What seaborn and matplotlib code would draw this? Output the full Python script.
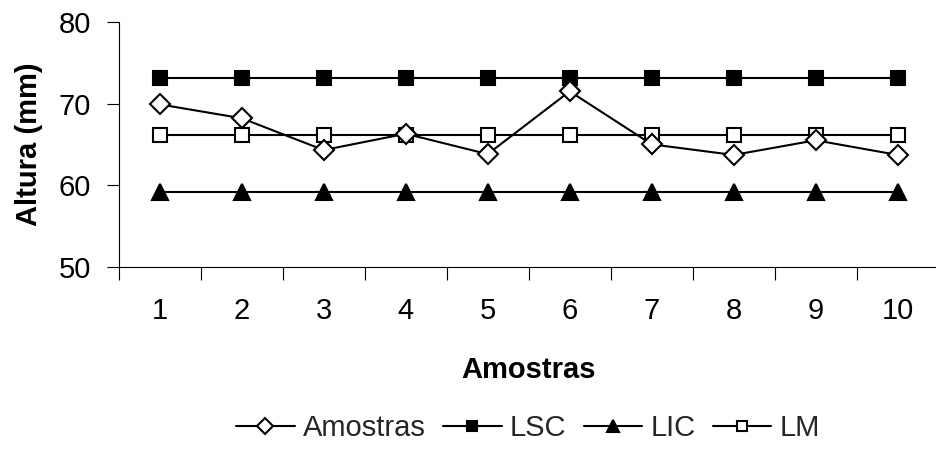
import matplotlib
matplotlib.use("Agg")
import matplotlib.pyplot as plt
import seaborn as sns
import pandas as pd

amostras_x = [1, 2, 3, 4, 5, 6, 7, 8, 9, 10]
amostras = [69.9, 68.2, 64.3, 66.3, 63.8, 71.5, 65.0, 63.7, 65.5, 63.7]
lsc = [73.15] * 10
lic = [59.15] * 10
lm = [66.15] * 10
y_ticks = [50, 60, 70, 80]
x_labels = ["1", "2", "3", "4", "5", "6", "7", "8", "9", "10"]

sns.set_theme(style="white")
plt.rcParams['font.family'] = ['Liberation Sans', 'DejaVu Sans']
FS = 21

fig = plt.figure(figsize=(9.36, 4.57), dpi=100)
ax = fig.add_axes([118.7 / 936, 1 - 266.7 / 457, 820 / 936, 244.7 / 457])

df = pd.DataFrame({"x": amostras_x, "Amostras": amostras, "LSC": lsc, "LIC": lic, "LM": lm})

styles = {
    "Amostras": dict(marker="D", markersize=10.2, markerfacecolor="white"),
    "LSC": dict(marker="s", markersize=10.5, markerfacecolor="black"),
    "LIC": dict(marker="^", markersize=11, markerfacecolor="black"),
    "LM": dict(marker="s", markersize=10.5, markerfacecolor="white"),
}
order_draw = ["LSC", "LIC", "LM", "Amostras"]
for name in order_draw:
    sns.lineplot(data=df, x="x", y=name, ax=ax, color="black", linewidth=1.5,
                 markeredgecolor="black", markeredgewidth=1.5, label=name,
                 zorder=3, clip_on=False, **styles[name])

ax.set_xlim(0.5, 10.5)
ax.set_ylim(50, 80)
ax.set_yticks(y_ticks)
ax.set_xticks(amostras_x)
ax.set_xticklabels(x_labels)
ax.set_xticks([i + 0.5 for i in range(0, 11)], minor=True)
ax.tick_params(axis="x", which="major", length=0, pad=22, labelsize=FS, colors="black")
ax.tick_params(axis="x", which="minor", length=9, width=0.8, direction="out", color="black", bottom=True)
ax.tick_params(axis="y", which="major", length=9, width=0.8, direction="out", pad=11,
               labelsize=FS, color="black", left=True, labelcolor="black")

for s in ["top", "right"]:
    ax.spines[s].set_visible(False)
for s in ["left", "bottom"]:
    ax.spines[s].set_color("black")
    ax.spines[s].set_linewidth(0.8)

ax.set_xlabel("Amostras", fontsize=FS, fontweight="bold", color="black")
ax.set_ylabel("Altura (mm)", fontsize=FS, fontweight="bold", color="black")
ax.xaxis.set_label_coords(0.5, -0.365)
ax.yaxis.set_label_coords(-0.0923, 0.5)
ax.grid(False)

handles, labels = ax.get_legend_handles_labels()
hmap = dict(zip(labels, handles))
leg_order = ["Amostras", "LSC", "LIC", "LM"]
ax.legend([hmap[k] for k in leg_order], leg_order, loc="center",
          bbox_to_anchor=(528 / 936, 1 - 428 / 457), bbox_transform=fig.transFigure,
          ncol=4, frameon=False, fontsize=FS, handlelength=2.0, handletextpad=0.28,
          columnspacing=0.6, borderpad=0, markerscale=0.75)

fig.savefig("out.png", dpi=100)
